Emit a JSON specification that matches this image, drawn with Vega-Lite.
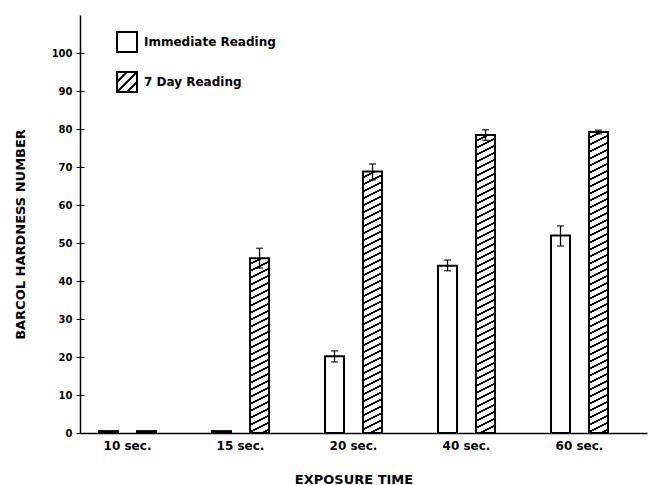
{
  "$schema": "https://vega.github.io/schema/vega-lite/v6.json",
  "width": 567,
  "height": 418,
  "autosize": {"type": "none"},
  "padding": {"left": 80, "top": 15, "right": 1, "bottom": 52},
  "background": "white",
  "config": {
    "view": {"stroke": null},
    "font": "DejaVu Sans",
    "axis": {"labelFont": "DejaVu Sans", "labelFontWeight": "bold", "labelColor": "black", "titleFont": "DejaVu Sans", "titleFontWeight": "bold", "titleColor": "black", "domainColor": "black", "tickColor": "black", "domainWidth": 1.5},
    "legend": {"orient": "none", "title": null, "symbolSize": 400, "symbolStrokeWidth": 2, "symbolStrokeColor": "black", "symbolFillColor": "white", "labelFont": "DejaVu Sans", "labelFontWeight": "bold", "labelFontSize": 12, "labelColor": "black", "labelOffset": 6}
  },
  "params": [
    {"name": "hatch", "value": [
      {"offset":0,"color":"#fff"},
      {"offset":0.014,"color":"#fff"},{"offset":0.014,"color":"#000"},{"offset":0.02,"color":"#000"},{"offset":0.02,"color":"#fff"},
      {"offset":0.034,"color":"#fff"},{"offset":0.034,"color":"#000"},{"offset":0.04,"color":"#000"},{"offset":0.04,"color":"#fff"},
      {"offset":0.054,"color":"#fff"},{"offset":0.054,"color":"#000"},{"offset":0.06,"color":"#000"},{"offset":0.06,"color":"#fff"},
      {"offset":0.074,"color":"#fff"},{"offset":0.074,"color":"#000"},{"offset":0.08,"color":"#000"},{"offset":0.08,"color":"#fff"},
      {"offset":0.094,"color":"#fff"},{"offset":0.094,"color":"#000"},{"offset":0.1,"color":"#000"},{"offset":0.1,"color":"#fff"},
      {"offset":0.114,"color":"#fff"},{"offset":0.114,"color":"#000"},{"offset":0.12,"color":"#000"},{"offset":0.12,"color":"#fff"},
      {"offset":0.134,"color":"#fff"},{"offset":0.134,"color":"#000"},{"offset":0.14,"color":"#000"},{"offset":0.14,"color":"#fff"},
      {"offset":0.154,"color":"#fff"},{"offset":0.154,"color":"#000"},{"offset":0.16,"color":"#000"},{"offset":0.16,"color":"#fff"},
      {"offset":0.174,"color":"#fff"},{"offset":0.174,"color":"#000"},{"offset":0.18,"color":"#000"},{"offset":0.18,"color":"#fff"},
      {"offset":0.194,"color":"#fff"},{"offset":0.194,"color":"#000"},{"offset":0.2,"color":"#000"},{"offset":0.2,"color":"#fff"},
      {"offset":0.214,"color":"#fff"},{"offset":0.214,"color":"#000"},{"offset":0.22,"color":"#000"},{"offset":0.22,"color":"#fff"},
      {"offset":0.234,"color":"#fff"},{"offset":0.234,"color":"#000"},{"offset":0.24,"color":"#000"},{"offset":0.24,"color":"#fff"},
      {"offset":0.254,"color":"#fff"},{"offset":0.254,"color":"#000"},{"offset":0.26,"color":"#000"},{"offset":0.26,"color":"#fff"},
      {"offset":0.274,"color":"#fff"},{"offset":0.274,"color":"#000"},{"offset":0.28,"color":"#000"},{"offset":0.28,"color":"#fff"},
      {"offset":0.294,"color":"#fff"},{"offset":0.294,"color":"#000"},{"offset":0.3,"color":"#000"},{"offset":0.3,"color":"#fff"},
      {"offset":0.314,"color":"#fff"},{"offset":0.314,"color":"#000"},{"offset":0.32,"color":"#000"},{"offset":0.32,"color":"#fff"},
      {"offset":0.334,"color":"#fff"},{"offset":0.334,"color":"#000"},{"offset":0.34,"color":"#000"},{"offset":0.34,"color":"#fff"},
      {"offset":0.354,"color":"#fff"},{"offset":0.354,"color":"#000"},{"offset":0.36,"color":"#000"},{"offset":0.36,"color":"#fff"},
      {"offset":0.374,"color":"#fff"},{"offset":0.374,"color":"#000"},{"offset":0.38,"color":"#000"},{"offset":0.38,"color":"#fff"},
      {"offset":0.394,"color":"#fff"},{"offset":0.394,"color":"#000"},{"offset":0.4,"color":"#000"},{"offset":0.4,"color":"#fff"},
      {"offset":0.414,"color":"#fff"},{"offset":0.414,"color":"#000"},{"offset":0.42,"color":"#000"},{"offset":0.42,"color":"#fff"},
      {"offset":0.434,"color":"#fff"},{"offset":0.434,"color":"#000"},{"offset":0.44,"color":"#000"},{"offset":0.44,"color":"#fff"},
      {"offset":0.454,"color":"#fff"},{"offset":0.454,"color":"#000"},{"offset":0.46,"color":"#000"},{"offset":0.46,"color":"#fff"},
      {"offset":0.474,"color":"#fff"},{"offset":0.474,"color":"#000"},{"offset":0.48,"color":"#000"},{"offset":0.48,"color":"#fff"},
      {"offset":0.494,"color":"#fff"},{"offset":0.494,"color":"#000"},{"offset":0.5,"color":"#000"},{"offset":0.5,"color":"#fff"},
      {"offset":0.514,"color":"#fff"},{"offset":0.514,"color":"#000"},{"offset":0.52,"color":"#000"},{"offset":0.52,"color":"#fff"},
      {"offset":0.534,"color":"#fff"},{"offset":0.534,"color":"#000"},{"offset":0.54,"color":"#000"},{"offset":0.54,"color":"#fff"},
      {"offset":0.554,"color":"#fff"},{"offset":0.554,"color":"#000"},{"offset":0.56,"color":"#000"},{"offset":0.56,"color":"#fff"},
      {"offset":0.574,"color":"#fff"},{"offset":0.574,"color":"#000"},{"offset":0.58,"color":"#000"},{"offset":0.58,"color":"#fff"},
      {"offset":0.594,"color":"#fff"},{"offset":0.594,"color":"#000"},{"offset":0.6,"color":"#000"},{"offset":0.6,"color":"#fff"},
      {"offset":0.614,"color":"#fff"},{"offset":0.614,"color":"#000"},{"offset":0.62,"color":"#000"},{"offset":0.62,"color":"#fff"},
      {"offset":0.634,"color":"#fff"},{"offset":0.634,"color":"#000"},{"offset":0.64,"color":"#000"},{"offset":0.64,"color":"#fff"},
      {"offset":0.654,"color":"#fff"},{"offset":0.654,"color":"#000"},{"offset":0.66,"color":"#000"},{"offset":0.66,"color":"#fff"},
      {"offset":0.674,"color":"#fff"},{"offset":0.674,"color":"#000"},{"offset":0.68,"color":"#000"},{"offset":0.68,"color":"#fff"},
      {"offset":0.694,"color":"#fff"},{"offset":0.694,"color":"#000"},{"offset":0.7,"color":"#000"},{"offset":0.7,"color":"#fff"},
      {"offset":0.714,"color":"#fff"},{"offset":0.714,"color":"#000"},{"offset":0.72,"color":"#000"},{"offset":0.72,"color":"#fff"},
      {"offset":0.734,"color":"#fff"},{"offset":0.734,"color":"#000"},{"offset":0.74,"color":"#000"},{"offset":0.74,"color":"#fff"},
      {"offset":0.754,"color":"#fff"},{"offset":0.754,"color":"#000"},{"offset":0.76,"color":"#000"},{"offset":0.76,"color":"#fff"},
      {"offset":0.774,"color":"#fff"},{"offset":0.774,"color":"#000"},{"offset":0.78,"color":"#000"},{"offset":0.78,"color":"#fff"},
      {"offset":0.794,"color":"#fff"},{"offset":0.794,"color":"#000"},{"offset":0.8,"color":"#000"},{"offset":0.8,"color":"#fff"},
      {"offset":0.814,"color":"#fff"},{"offset":0.814,"color":"#000"},{"offset":0.82,"color":"#000"},{"offset":0.82,"color":"#fff"},
      {"offset":0.834,"color":"#fff"},{"offset":0.834,"color":"#000"},{"offset":0.84,"color":"#000"},{"offset":0.84,"color":"#fff"},
      {"offset":0.854,"color":"#fff"},{"offset":0.854,"color":"#000"},{"offset":0.86,"color":"#000"},{"offset":0.86,"color":"#fff"},
      {"offset":0.874,"color":"#fff"},{"offset":0.874,"color":"#000"},{"offset":0.88,"color":"#000"},{"offset":0.88,"color":"#fff"},
      {"offset":0.894,"color":"#fff"},{"offset":0.894,"color":"#000"},{"offset":0.9,"color":"#000"},{"offset":0.9,"color":"#fff"},
      {"offset":1,"color":"#fff"}
    ]}
  ],
  "data": {"values": [
    {"time": "10 sec.", "reading": "Immediate Reading", "value": 0.5, "lo": null, "hi": null},
    {"time": "10 sec.", "reading": "7 Day Reading", "value": 0.5, "lo": null, "hi": null},
    {"time": "15 sec.", "reading": "Immediate Reading", "value": 0.5, "lo": null, "hi": null},
    {"time": "15 sec.", "reading": "7 Day Reading", "value": 46.0, "lo": 43.4, "hi": 48.6},
    {"time": "20 sec.", "reading": "Immediate Reading", "value": 20.2, "lo": 18.7, "hi": 21.6},
    {"time": "20 sec.", "reading": "7 Day Reading", "value": 68.8, "lo": 66.6, "hi": 70.8},
    {"time": "40 sec.", "reading": "Immediate Reading", "value": 44.0, "lo": 42.7, "hi": 45.5},
    {"time": "40 sec.", "reading": "7 Day Reading", "value": 78.4, "lo": 77.0, "hi": 79.8},
    {"time": "60 sec.", "reading": "Immediate Reading", "value": 52.0, "lo": 49.2, "hi": 54.5},
    {"time": "60 sec.", "reading": "7 Day Reading", "value": 79.2, "lo": 78.7, "hi": 79.7}
  ]},
  "encoding": {
    "x": {
      "field": "time", "type": "nominal", "sort": null,
      "scale": {"paddingInner": 0.4956, "paddingOuter": 0.2567, "align": 0.328},
      "axis": {"title": "EXPOSURE  TIME", "ticks": false, "labelAngle": 0, "labelPadding": 7, "labelFontSize": 12, "titleFontSize": 13, "titleX": 273.5, "titleY": 46, "titleBaseline": "middle", "titleAlign": "center", "titleAnchor": null}
    },
    "xOffset": {
      "field": "reading", "type": "nominal",
      "scale": {"domain": ["Immediate Reading", "7 Day Reading"], "paddingInner": 0.5, "paddingOuter": 0}
    }
  },
  "layer": [
    {
      "mark": {
        "type": "bar", "strokeWidth": 2,
        "fill": {"expr": "datum.value < 2 ? 'black' : (datum.reading === '7 Day Reading' ? {gradient: 'linear', x1: 0, y1: 0, x2: 3325 / (90.25 + pow(datum.value * 3.8, 2)), y2: 1330 * datum.value / (90.25 + pow(datum.value * 3.8, 2)), stops: hatch} : 'white')"}
      },
      "encoding": {
        "y": {
          "field": "value", "type": "quantitative",
          "scale": {"domain": [0, 110], "nice": false},
          "axis": {"title": "BARCOL  HARDNESS  NUMBER", "values": [0, 10, 20, 30, 40, 50, 60, 70, 80, 90, 100], "tickSize": 4, "labelPadding": 4, "labelFontSize": 10, "grid": true, "gridDash": [4, 2000], "gridColor": "black", "gridWidth": 1, "gridOpacity": 1, "titleFontSize": 13, "titleAngle": -90, "titleX": -60, "titleY": 219, "titleBaseline": "middle", "titleAlign": "center"}
        },
        "stroke": {
          "field": "reading", "type": "nominal",
          "scale": {"domain": ["Immediate Reading", "7 Day Reading"], "range": ["black", "black"]},
          "legend": {"values": ["Immediate Reading"], "symbolType": "square", "legendX": 36, "legendY": 16}
        }
      }
    },
    {
      "transform": [{"filter": "datum.lo != null"}],
      "mark": {"type": "rule", "color": "black", "strokeWidth": 1.3},
      "encoding": {
        "y": {"field": "lo", "type": "quantitative"},
        "y2": {"field": "hi"},
        "opacity": {
          "field": "reading", "type": "nominal",
          "scale": {"domain": ["7 Day Reading", "Immediate Reading"], "range": [1, 1]},
          "legend": {"values": ["7 Day Reading"], "symbolType": "M-1,-1H1V1H-1Z M-1,0L0,-1 M-1,1L1,-1 M0,1L1,0", "symbolStrokeColor": "black", "symbolStrokeWidth": 2, "symbolOpacity": 1, "legendX": 36, "legendY": 56}
        }
      }
    },
    {
      "transform": [{"filter": "datum.lo != null"}],
      "mark": {"type": "tick", "color": "black", "orient": "horizontal", "size": 7, "thickness": 1.5},
      "encoding": {"y": {"field": "lo", "type": "quantitative"}}
    },
    {
      "transform": [{"filter": "datum.lo != null"}],
      "mark": {"type": "tick", "color": "black", "orient": "horizontal", "size": 7, "thickness": 1.5},
      "encoding": {"y": {"field": "hi", "type": "quantitative"}}
    }
  ]
}
